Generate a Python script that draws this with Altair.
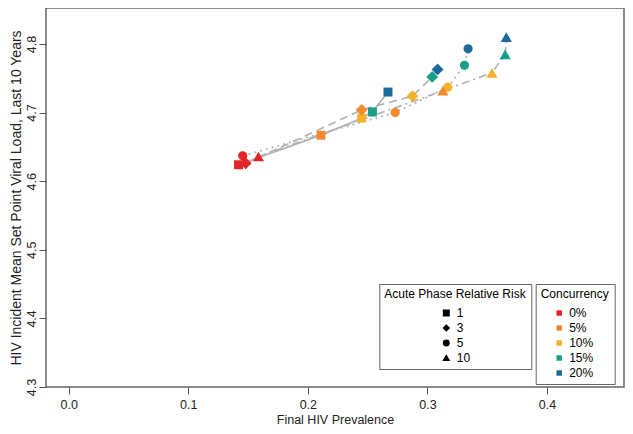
import altair as alt
import pandas as pd

conc_levels = ["0%", "5%", "10%", "15%", "20%"]
conc_colors = ["#e3262b", "#f08a2c", "#f2b229", "#1aa088", "#1b6a9b"]
rr_levels = ["1", "3", "5", "10"]
rr_shapes = ["square", "diamond", "circle", "triangle-up"]
rr_sizes = [80, 140, 85, 125]
rr_dashes = [[1, 0], [8, 5], [2, 4], [8, 4, 2, 4]]

# Final HIV prevalence by concurrency level (0%,5%,10%,15%,20%) for each relative risk
prev_rr1 = [0.142, 0.211, 0.245, 0.254, 0.267]
prev_rr3 = [0.148, 0.245, 0.2875, 0.304, 0.3085]
prev_rr5 = [0.1455, 0.273, 0.317, 0.331, 0.334]
prev_rr10 = [0.1587, 0.313, 0.354, 0.365, 0.366]

# Mean set point viral load, last 10 years
spvl_rr1 = [4.624, 4.667, 4.692, 4.701, 4.730]
spvl_rr3 = [4.626, 4.704, 4.724, 4.752, 4.763]
spvl_rr5 = [4.637, 4.700, 4.737, 4.769, 4.793]
spvl_rr10 = [4.636, 4.732, 4.758, 4.785, 4.810]

x_ticks = [0.0, 0.1, 0.2, 0.3, 0.4]
y_ticks = [4.3, 4.4, 4.5, 4.6, 4.7, 4.8]

rows = []
for rr, xs, ys in zip(rr_levels, [prev_rr1, prev_rr3, prev_rr5, prev_rr10],
                      [spvl_rr1, spvl_rr3, spvl_rr5, spvl_rr10]):
    for i, (xv, yv) in enumerate(zip(xs, ys)):
        rows.append({"rr": rr, "rr_line": "L" + rr,
                     "conc": conc_levels[i], "ci": i, "prev": xv, "spvl": yv})
df = pd.DataFrame(rows)

FONT = "Liberation Sans"

x_enc = alt.X("prev:Q",
              scale=alt.Scale(domain=[-0.019, 0.4644], nice=False, zero=False),
              axis=alt.Axis(values=x_ticks, format=".1f", title="Final HIV Prevalence",
                            tickSize=7, labelPadding=4, titlePadding=3,
                            labelFontSize=12.5, titleFontSize=12.5))
y_enc = alt.Y("spvl:Q",
              scale=alt.Scale(domain=[4.3, 4.8525], nice=False, zero=False),
              axis=alt.Axis(values=y_ticks, format=".1f",
                            title="HIV Incident Mean Set Point Viral Load, Last 10 Years",
                            labelAngle=270, labelAlign="center", labelBaseline="bottom",
                            tickSize=7, labelPadding=1, titlePadding=2,
                            labelFontSize=12.5, titleFontSize=14))

color_enc = alt.Color("conc:N",
                      scale=alt.Scale(domain=conc_levels, range=conc_colors),
                      legend=alt.Legend(title="Concurrency", orient="none", legendX=489.7, legendY=276,
                                        direction="vertical", strokeColor="#666", fillColor="white",
                                        padding=5, titleFontSize=12, titleFontWeight="normal",
                                        titleAnchor="start", titleAlign="left",
                                        labelFontSize=12, labelAlign="left", symbolType="square",
                                        symbolSize=30, symbolOffset=12.5, labelOffset=4, rowPadding=3,
                                        titlePadding=6, titleColor="black", labelColor="black",
                                        titleFont=FONT, labelFont=FONT))
shape_enc = alt.Shape("rr:N",
                      scale=alt.Scale(domain=rr_levels, range=rr_shapes),
                      legend=alt.Legend(title="Acute Phase Relative Risk", orient="none",
                                        legendX=333.3, legendY=276, direction="vertical",
                                        strokeColor="#666", fillColor="white", padding=5,
                                        titleFontSize=12, titleFontWeight="normal",
                                        titleAnchor="start", titleAlign="left",
                                        labelFontSize=12, labelAlign="left",
                                        symbolSize=30, symbolFillColor="black", symbolStrokeColor="black",
                                        symbolOffset=56, labelOffset=4.5, rowPadding=3, titlePadding=6,
                                        titleColor="black", labelColor="black",
                                        titleFont=FONT, labelFont=FONT))

base = alt.Chart(df)

lines = base.mark_line(color="#b3b3b3", strokeWidth=1.7).encode(
    x=x_enc, y=y_enc,
    detail="rr_line:N",
    strokeDash=alt.StrokeDash("rr_line:N",
                              scale=alt.Scale(domain=["L" + r for r in rr_levels], range=rr_dashes),
                              legend=None),
    order=alt.Order("ci:Q"),
)

point_layers = []
for r, s in zip(rr_levels, rr_sizes):
    point_layers.append(
        base.transform_filter(alt.datum.rr == r)
        .mark_point(filled=True, opacity=1, size=s)
        .encode(x=x_enc, y=y_enc, color=color_enc, shape=shape_enc)
    )

chart = alt.layer(lines, *point_layers).properties(
    width=578, height=379,
    padding={"left": 38, "top": 0, "right": 1, "bottom": 39},
    autosize=alt.AutoSizeParams(type="none"),
    background="white",
).configure_view(
    stroke="#666666", strokeWidth=1.5
).configure_axis(
    grid=False, domain=False, labelFont=FONT, titleFont=FONT,
    titleFontWeight="normal",
    labelColor="#222", titleColor="#222", tickColor="#555", tickWidth=1
)

chart.save("out.html", embed_options={"renderer": "svg", "actions": False})
